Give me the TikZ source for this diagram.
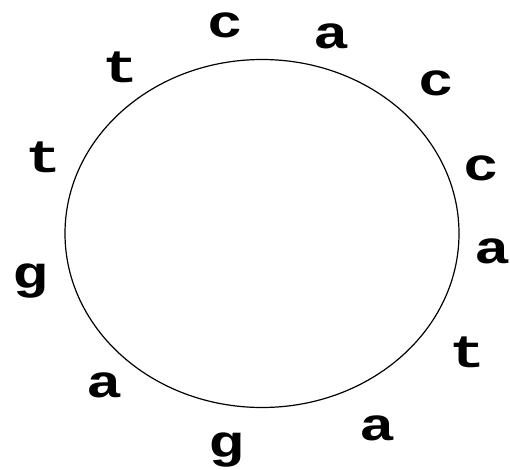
\documentclass[tikz,border=0pt]{standalone}
\usepackage{fontspec}
\newfontfamily\basefont[FakeStretch=1.3]{Liberation Mono}
\usetikzlibrary{positioning}

\begin{document}
\begin{tikzpicture}[x=1pt,y=-1pt,
    base/.style={anchor=base, inner sep=0pt, font=\basefont\bfseries\fontsize{46}{46}\selectfont}]
    \useasboundingbox (0,0) rectangle (510,469);
    % the circular sequence
    \draw[line width=1.2pt] (262,233.5) ellipse [x radius=197, y radius=174];
    % top
    \node[base] (c1) at (225,37) {c};
    \node[base] (a1) at (331,48) {a};
    \node[base] (c2) at (436,95) {c};
    % right side
    \node[base] (c3) at (481,180) {c};
    \node[base] (a2) at (492,263) {a};
    \node[base] (t1) at (467,367) {t};
    % bottom
    \node[base] (a3) at (377,440) {a};
    \node[base] (g1) at (226,457) {g};
    \node[base] (a4) at (104,397) {a};
    % left side
    \node[base] (g2) at (30,288) {g};
    \node[base] (t2) at (43,172) {t};
    \node[base] (t3) at (120,82) {t};
\end{tikzpicture}
\end{document}
